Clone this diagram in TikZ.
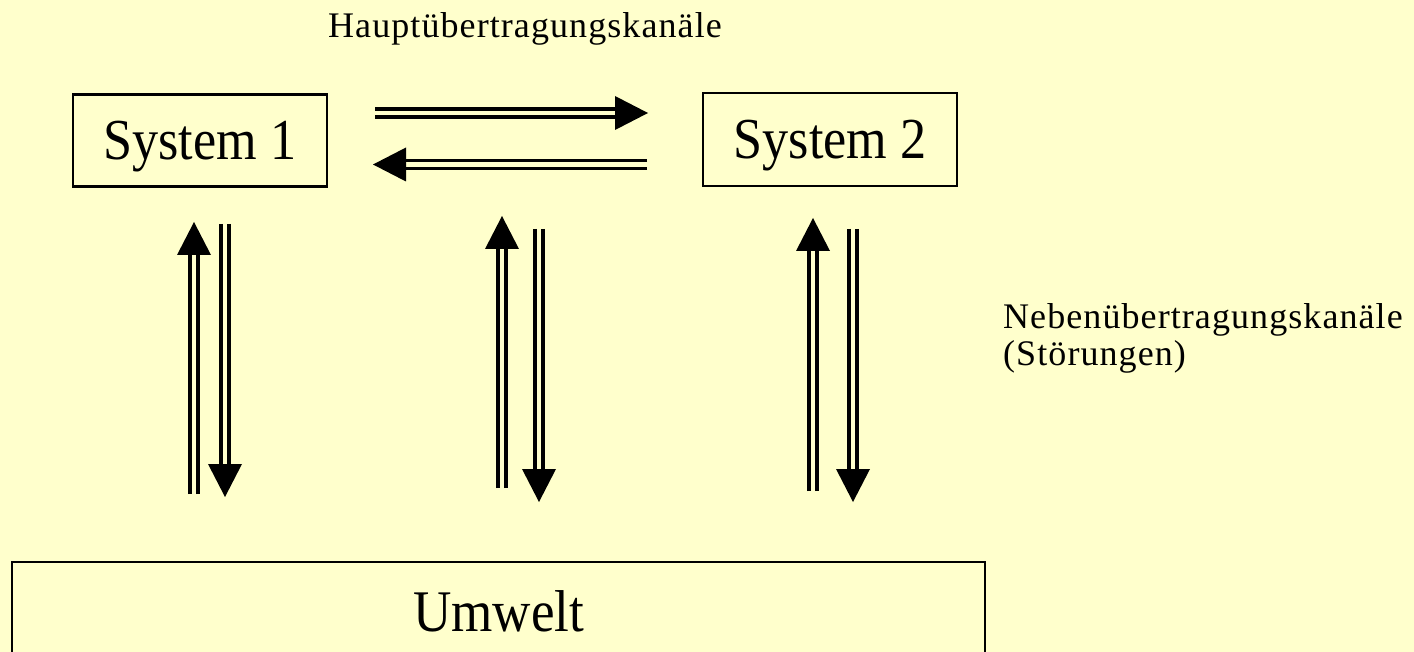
\documentclass[tikz,border=0pt]{standalone}
\usepackage{fontspec}
\setmainfont{Liberation Serif}
\newfontfamily\boxfont[FakeStretch=0.9]{Liberation Serif}
\newfontfamily\labfont[LetterSpace=3]{Liberation Serif}
\definecolor{bg}{HTML}{FFFFCC}
\tikzset{
  sysbox/.style={draw, line width=2.3pt, minimum width=254pt, minimum height=92pt, inner sep=0pt,
    font=\boxfont\fontsize{58}{64}\selectfont, text height=45pt, text depth=6pt},
  envbox/.style={draw, line width=2.3pt, anchor=north west, minimum width=973pt, minimum height=120pt, inner sep=0pt,
    font=\boxfont\fontsize{59}{64}\selectfont, text height=30pt, text depth=12pt},
  lab/.style={anchor=base west, inner sep=0pt, font=\labfont\fontsize{36}{40}\selectfont},
  chan/.style={line width=3.6pt},
}
\newcommand{\dblarr}[3]{%
  \begin{scope}[shift={(#1)}, rotate=#2]
    \draw[chan] (0,4) -- (#3-30,4) (0,-4) -- (#3-30,-4);
    \fill (#3-33,17) -- (#3,0) -- (#3-33,-17) -- cycle;
  \end{scope}}
\begin{document}
\begin{tikzpicture}[x=1pt, y=-1pt]
  \useasboundingbox (0,0) rectangle (1414,652);
  \fill[bg] (0,0) rectangle (1414,652);

  \node[sysbox] (sys1) at (200,140.5) {System 1};
  \node[sysbox, minimum height=93pt] (sys2) at (830,139.5) {System 2};
  \node[envbox] (env) at (11,561) {Umwelt};

  \node[lab] (haupt) at (328,38) {Hauptübertragungskanäle};
  \node[lab] (neben) at (1003,329) {Nebenübertragungskanäle};
  \node[lab] (stoer) at (1003,366) {(Störungen)};

  % main channels
  \coordinate (h1) at (375,113);
  \coordinate (h2) at (647,164.5);
  \dblarr{h1}{0}{273}
  \dblarr{h2}{180}{274}

  % side channels
  \coordinate (u1) at (194,494);
  \coordinate (d1) at (225,224);
  \coordinate (u2) at (502,488);
  \coordinate (d2) at (539,229);
  \coordinate (u3) at (813,491);
  \coordinate (d3) at (853,229);
  \dblarr{u1}{90}{272}
  \dblarr{d1}{-90}{273}
  \dblarr{u2}{90}{272}
  \dblarr{d2}{-90}{273}
  \dblarr{u3}{90}{273}
  \dblarr{d3}{-90}{273}
\end{tikzpicture}
\end{document}
